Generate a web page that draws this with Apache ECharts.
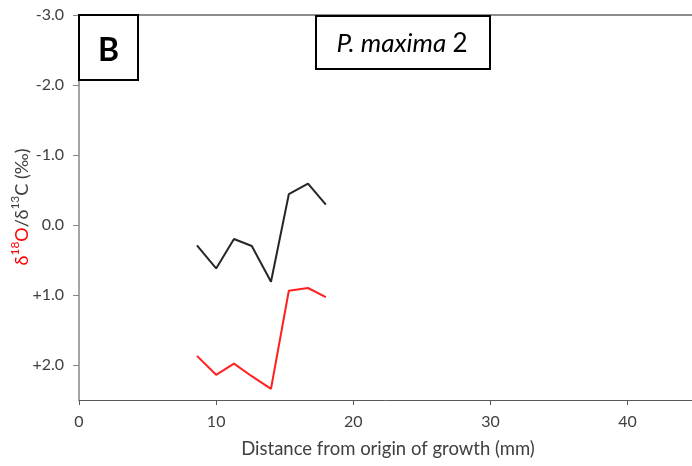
<!DOCTYPE html>
<html>
<head>
<meta charset="utf-8">
<script src="https://cdn.jsdelivr.net/npm/echarts@6/dist/echarts.min.js"></script>
<style>
  html, body { margin: 0; padding: 0; background: #fff; }
  #chart { width: 692px; height: 466px; }
</style>
</head>
<body>
<div id="chart"></div>
<script>
// Distance from origin of growth (mm) for each sample
const distance = [8.6, 10.0, 11.3, 12.6, 14.0, 15.3, 16.7, 18.0];
// Carbon isotope values (per mil)
const d13C = [0.29, 0.62, 0.20, 0.30, 0.81, -0.44, -0.59, -0.29];
// Oxygen isotope values (per mil)
const d18O = [1.87, 2.14, 1.98, 2.16, 2.34, 0.94, 0.90, 1.03];

const xTicks = [0, 10, 20, 30, 40];
const yTicks = [-3, -2, -1, 0, 1, 2];

const FONT = 'Lato, "Open Sans", sans-serif';
const TEXT = '#404040';

function pairs(xs, ys) { return xs.map((x, i) => [x, ys[i]]); }

const chart = echarts.init(document.getElementById('chart'), null, { renderer: 'canvas' });

chart.setOption({
  animation: false,
  backgroundColor: '#fff',
  grid: { left: 79, top: 15, right: 0, bottom: 66 },
  xAxis: [{
    type: 'value',
    min: 0, max: 44.7, interval: 10,
    position: 'bottom',
    axisLine: { onZero: false, lineStyle: { color: '#595959', width: 1 } },
    axisTick: { show: true, length: 5, inside: false, customValues: xTicks, lineStyle: { color: '#595959' } },
    axisLabel: {
      color: TEXT, fontFamily: FONT, fontSize: 16, margin: 14,
      customValues: xTicks,
      formatter: v => String(v)
    },
    splitLine: { show: false }
  }, {
    type: 'value',
    min: 0, max: 44.7,
    position: 'top',
    axisLine: { onZero: false, lineStyle: { color: '#8c8c8c', width: 2 } },
    axisTick: { show: false },
    axisLabel: { show: false },
    splitLine: { show: false }
  }],
  yAxis: {
    type: 'value',
    inverse: true,
    min: -3, max: 2.5, interval: 1,
    axisLine: { show: true, onZero: false, lineStyle: { color: '#868686', width: 1.5 } },
    axisTick: { show: true, length: 6, inside: false, customValues: yTicks, lineStyle: { color: '#868686' } },
    axisLabel: {
      color: TEXT, fontFamily: FONT, fontSize: 16, margin: 15,
      customValues: yTicks,
      formatter: v => (v > 0 ? '+' : '') + v.toFixed(1)
    },
    splitLine: { show: false }
  },
  series: [{
    name: 'δ13C',
    type: 'line',
    data: pairs(distance, d13C),
    showSymbol: false,
    lineStyle: { color: '#262626', width: 2 },
    z: 3
  }, {
    name: 'δ18O',
    type: 'line',
    data: pairs(distance, d18O),
    showSymbol: false,
    lineStyle: { color: '#ff2020', width: 2 },
    z: 3
  }],
  graphic: [{
    // x-axis title
    type: 'text',
    x: 388, y: 449,
    style: {
      text: 'Distance from origin of growth (mm)',
      fill: TEXT, font: '18.5px ' + FONT,
      align: 'center', verticalAlign: 'middle'
    },
    z: 11
  }, {
    type: 'rect',
    shape: { x: 79, y: 15, width: 59, height: 65 },
    style: { fill: '#fff', stroke: '#000', lineWidth: 2 },
    z: 10
  }, {
    type: 'text',
    x: 108.5, y: 51,
    style: {
      text: 'B', fill: '#000', font: 'bold 32px ' + FONT,
      align: 'center', verticalAlign: 'middle'
    },
    z: 11
  }, {
    type: 'rect',
    shape: { x: 316, y: 16, width: 174, height: 53 },
    style: { fill: '#fff', stroke: '#000', lineWidth: 2 },
    z: 10
  }, {
    type: 'text',
    x: 402, y: 44,
    style: {
      text: '{i|P. maxima }{n|2}',
      align: 'center', verticalAlign: 'middle',
      rich: {
        i: { fontFamily: FONT, fontStyle: 'italic', fontSize: 26, fill: '#000' },
        n: { fontFamily: FONT, fontSize: 26, fill: '#000' }
      }
    },
    z: 11
  }, {
    type: 'text',
    x: 20, y: 207,
    rotation: Math.PI / 2,
    style: {
      text: '{r|δ}{rs|18}{r|O}{k|/δ}{ks|13}{k|C (‰)}',
      align: 'center', verticalAlign: 'middle',
      rich: {
        r: { fontFamily: FONT, fontSize: 18, fill: '#ff0000', lineHeight: 22, verticalAlign: 'bottom' },
        rs: { fontFamily: FONT, fontSize: 12, fill: '#ff0000', lineHeight: 22, verticalAlign: 'top' },
        k: { fontFamily: FONT, fontSize: 18, fill: TEXT, lineHeight: 22, verticalAlign: 'bottom' },
        ks: { fontFamily: FONT, fontSize: 12, fill: TEXT, lineHeight: 22, verticalAlign: 'top' }
      }
    },
    z: 11
  }]
});
</script>
</body>
</html>
